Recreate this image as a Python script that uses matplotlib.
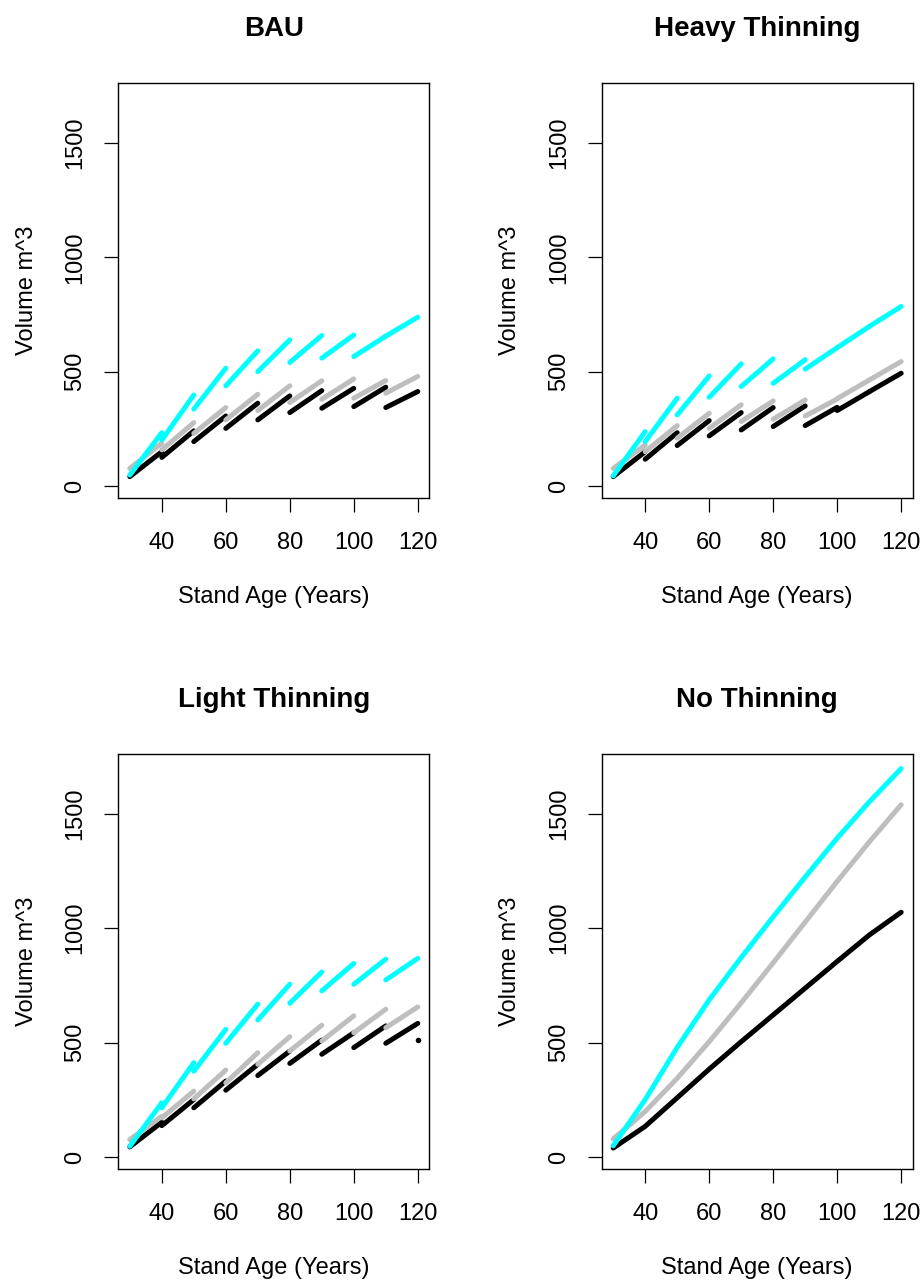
import numpy as np
import matplotlib.pyplot as plt

plt.rcParams['font.family'] = ['Liberation Sans', 'DejaVu Sans']

# thinning happens every 10 years: each series is drawn as one segment per decade
seg_start_age = [30, 40, 50, 60, 70, 80, 90, 100, 110]
seg_end_age = [40, 50, 60, 70, 80, 90, 100, 110, 120]

# BAU
bau_black_start = [41, 125, 194, 252, 289, 321, 340, 347, 343]
bau_black_end = [150, 241, 306, 362, 394, 417, 427, 432, 413]
bau_grey_start = [77, 158, 230, 289, 330, 365, 379, 384, 406]
bau_grey_end = [187, 277, 343, 401, 438, 460, 468, 461, 479]
bau_cyan_start = [48, 201, 336, 438, 500, 540, 559, 566, 655]
bau_cyan_end = [233, 398, 515, 591, 639, 658, 660, 655, 738]

# Heavy Thinning
heavy_black_start = [41, 117, 177, 219, 245, 260, 264, 330, 412]
heavy_black_end = [150, 233, 286, 321, 343, 350, 344, 412, 493]
heavy_grey_start = [77, 150, 209, 252, 282, 292, 306, 382, 463]
heavy_grey_end = [179, 264, 318, 355, 372, 376, 380, 463, 544]
heavy_cyan_start = [44, 194, 311, 388, 435, 449, 511, 605, 697]
heavy_cyan_end = [238, 384, 481, 534, 556, 552, 605, 697, 785]

# Light Thinning
light_black_start = [44, 137, 215, 292, 356, 409, 449, 478, 497]
light_black_end = [152, 251, 332, 405, 463, 511, 543, 573, 584]
light_grey_start = [76, 171, 254, 324, 405, 463, 507, 543, 565]
light_grey_end = [178, 288, 380, 456, 526, 576, 617, 646, 656]
light_cyan_start = [47, 215, 375, 497, 599, 672, 726, 755, 774]
light_cyan_end = [237, 412, 558, 668, 755, 809, 846, 865, 868]
light_last_age = [120]
light_last_black = [511]

# No Thinning
none_age = [30, 40, 50, 60, 70, 80, 90, 100, 110, 120]
none_black = [39, 134, 259, 384, 504, 621, 738, 855, 970, 1070]
none_grey = [79, 199, 344, 504, 674, 849, 1027, 1205, 1377, 1540]
none_cyan = [49, 251, 479, 687, 872, 1050, 1224, 1394, 1552, 1698]

colors = ['black', '#BEBEBE', '#00FFFF']
lw = 3.6

fig = plt.figure(figsize=(9.22, 12.8), dpi=100)

positions = [
    [0.1283, 0.6112, 0.3373, 0.3238],
    [0.6526, 0.6112, 0.3373, 0.3238],
    [0.1283, 0.0870, 0.3373, 0.3238],
    [0.6526, 0.0870, 0.3373, 0.3238],
]
titles = ['BAU', 'Heavy Thinning', 'Light Thinning', 'No Thinning']

segment_data = [
    [(bau_black_start, bau_black_end), (bau_grey_start, bau_grey_end),
     (bau_cyan_start, bau_cyan_end)],
    [(heavy_black_start, heavy_black_end), (heavy_grey_start, heavy_grey_end),
     (heavy_cyan_start, heavy_cyan_end)],
    [(light_black_start, light_black_end), (light_grey_start, light_grey_end),
     (light_cyan_start, light_cyan_end)],
]

for i, pos in enumerate(positions):
    ax = fig.add_axes(pos)
    if i < 3:
        for (starts, ends), col in zip(segment_data[i], colors):
            for a0, a1, v0, v1 in zip(seg_start_age, seg_end_age, starts, ends):
                ax.plot([a0, a1], [v0, v1], color=col, lw=lw,
                        solid_capstyle='round')
        if i == 2:
            ax.plot(light_last_age, light_last_black, 'o', color='black',
                    ms=4, mec='none')
    else:
        for vals, col in zip([none_black, none_grey, none_cyan], colors):
            ax.plot(none_age, vals, color=col, lw=lw, solid_capstyle='round',
                    solid_joinstyle='round')

    ax.set_xlim(26.4, 123.6)
    ax.set_ylim(-51, 1761)
    ax.set_xticks([40, 60, 80, 100, 120])
    ax.set_yticks([0, 500, 1000, 1500])
    ax.tick_params(direction='out', length=10, width=0.9, labelsize=17)
    ax.tick_params(axis='x', pad=15)
    ax.tick_params(axis='y', pad=13)
    for lab in ax.get_yticklabels():
        lab.set_rotation(90)
        lab.set_va('center')
    for sp in ax.spines.values():
        sp.set_linewidth(1.0)
    ax.set_title(titles[i], fontsize=20, fontweight='bold', pad=34)
    ax.set_xlabel('Stand Age (Years)', fontsize=17, labelpad=23)
    ax.set_ylabel('Volume m^3', fontsize=17, labelpad=19)

fig.savefig('out.png', dpi=100)
